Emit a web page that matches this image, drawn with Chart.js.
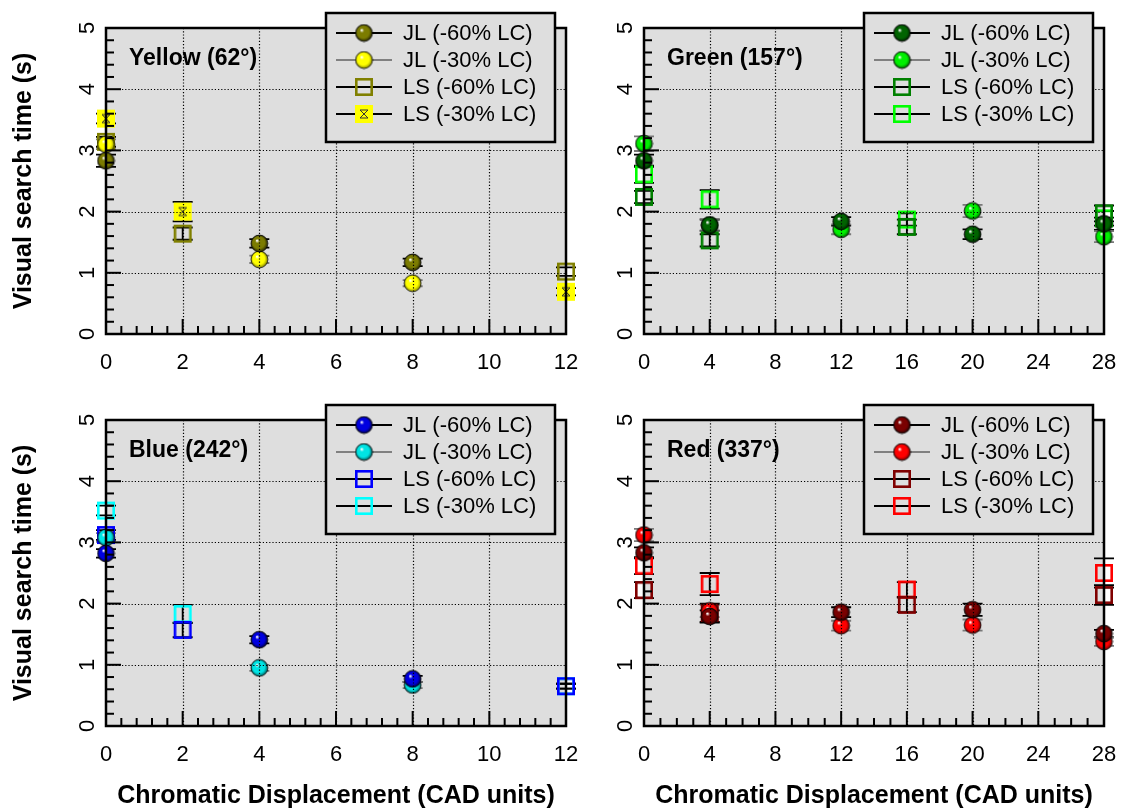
<!DOCTYPE html>
<html>
<head>
<meta charset="utf-8">
<script src="https://cdn.jsdelivr.net/npm/chart.js@4.4.0/dist/chart.umd.min.js"></script>
<style>
  html, body { margin: 0; padding: 0; background: #fff; }
  #wrap { position: relative; width: 1121px; height: 809px; }
  canvas { position: absolute; }
</style>
</head>
<body>
<div id="wrap">
  <canvas id="yellow" width="580" height="392" style="left:0;top:0"></canvas>
  <canvas id="green" width="541" height="392" style="left:580px;top:0"></canvas>
  <canvas id="blue" width="580" height="417" style="left:0;top:392px"></canvas>
  <canvas id="red" width="541" height="417" style="left:580px;top:392px"></canvas>
</div>
<script>
const FONT = '"Liberation Sans", Arial, Helvetica, sans-serif';
const LEGEND_LABELS = ['JL (-60% LC)', 'JL (-30% LC)', 'LS (-60% LC)', 'LS (-30% LC)'];
const Y_TITLE = 'Visual search time (s)';
const X_TITLE = 'Chromatic Displacement (CAD units)';

// Yellow (62°)
const yellowJLx = [0, 4, 8];
const yellowJL60 = [2.83, 1.48, 1.17];
const yellowJL60Err = [0.10, 0.07, 0.06];
const yellowJL30 = [3.10, 1.22, 0.83];
const yellowJL30Err = [0.08, 0.06, 0.05];
const yellowLSx = [0, 2, 12];
const yellowLS60 = [3.14, 1.64, 1.02];
const yellowLS60Err = [0.08, 0.10, 0.07];
const yellowLS30 = [3.52, 2.00, 0.69];
const yellowLS30Err = [0.08, 0.16, 0.06];

// Green (157°)
const greenJLx = [0, 4, 12, 20, 28];
const greenJL60 = [2.83, 1.78, 1.84, 1.63, 1.80];
const greenJL60Err = [0.10, 0.09, 0.07, 0.08, 0.10];
const greenJL30 = [3.11, 1.78, 1.71, 2.01, 1.59];
const greenJL30Err = [0.12, 0.10, 0.08, 0.10, 0.09];
const greenLSx = [0, 4, 16, 28];
const greenLS60 = [2.24, 1.53, 1.75, 1.97];
const greenLS60Err = [0.10, 0.10, 0.12, 0.13];
const greenLS30 = [2.61, 2.20, 1.87, 1.89];
const greenLS30Err = [0.14, 0.15, 0.10, 0.12];

// Blue (242°)
const blueJLx = [0, 4, 8];
const blueJL60 = [2.82, 1.41, 0.77];
const blueJL60Err = [0.07, 0.06, 0.05];
const blueJL30 = [3.08, 0.95, 0.67];
const blueJL30Err = [0.07, 0.05, 0.05];
const blueLSx = [0, 2, 12];
const blueLS60 = [3.12, 1.57, 0.65];
const blueLS60Err = [0.08, 0.12, 0.04];
const blueLS30 = [3.52, 1.83, 0.65];
const blueLS30Err = [0.08, 0.15, 0.04];

// Red (337°)
const redJLx = [0, 4, 12, 20, 28];
const redJL60 = [2.83, 1.79, 1.86, 1.90, 1.51];
const redJL60Err = [0.09, 0.10, 0.08, 0.10, 0.06];
const redJL30 = [3.12, 1.88, 1.64, 1.65, 1.38];
const redJL30Err = [0.10, 0.10, 0.08, 0.09, 0.07];
const redLSx = [0, 4, 16, 28];
const redLS60 = [2.22, 1.85, 1.98, 2.14];
const redLS60Err = [0.13, 0.15, 0.12, 0.16];
const redLS30 = [2.62, 2.32, 2.23, 2.50];
const redLS30Err = [0.14, 0.18, 0.12, 0.24];

// shaded ball marker
function sphere(color, dark) {
  const c = document.createElement('canvas');
  c.width = c.height = 19;
  const g = c.getContext('2d');
  const r = 8.4, cx = 9.5, cy = 9.5;
  const grad = g.createRadialGradient(cx - 2.5, cy - 3, 0.4, cx, cy, r);
  grad.addColorStop(0, '#ffffff');
  grad.addColorStop(0.22, color);
  grad.addColorStop(0.7, color);
  grad.addColorStop(1, dark);
  g.fillStyle = grad;
  g.beginPath();
  g.arc(cx, cy, r, 0, Math.PI * 2);
  g.fill();
  g.lineWidth = 1;
  g.strokeStyle = 'rgba(0,0,0,0.8)';
  g.stroke();
  return c;
}

function square(color, filled) {
  const c = document.createElement('canvas');
  c.width = c.height = 20;
  const g = c.getContext('2d');
  if (filled) {
    g.fillStyle = color;
    g.fillRect(1, 1, 18, 18);
    g.strokeStyle = '#333';
    g.lineWidth = 1;
    g.beginPath();
    g.moveTo(6, 6); g.lineTo(14, 6); g.lineTo(6, 14); g.lineTo(14, 14); g.closePath();
    g.stroke();
  }
  g.lineWidth = 2.6;
  g.strokeStyle = color;
  g.strokeRect(2.3, 2.3, 15.4, 15.4);
  return c;
}

const decor = {
  id: 'decor',
  beforeDraw(chart) {
    const { ctx, chartArea: a } = chart;
    ctx.save();
    ctx.fillStyle = '#dedede';
    ctx.fillRect(a.left, a.top, a.right - a.left, a.bottom - a.top);
    ctx.restore();
  },
  beforeDatasetsDraw(chart) {
    const { ctx, scales: { x, y } } = chart;
    ctx.save();
    ctx.lineWidth = 1.8;
    chart.data.datasets.forEach(ds => {
      ctx.strokeStyle = ds.errColor;
      ds.data.forEach((pt, i) => {
        const e = ds.err[i];
        const px = x.getPixelForValue(pt.x);
        const top = y.getPixelForValue(pt.y + e);
        const bot = y.getPixelForValue(pt.y - e);
        ctx.beginPath();
        ctx.moveTo(px, top); ctx.lineTo(px, bot);
        ctx.moveTo(px - 10, top); ctx.lineTo(px + 10, top);
        ctx.moveTo(px - 10, bot); ctx.lineTo(px + 10, bot);
        ctx.stroke();
      });
    });
    ctx.restore();
  },
  afterDatasetsDraw(chart, args, opts) {
    const { ctx, chartArea: a, scales: { x, y } } = chart;
    ctx.save();
    // dotted grid on top of the markers
    ctx.strokeStyle = '#000';
    ctx.lineWidth = 1.2;
    ctx.setLineDash([1.2, 2]);
    x.ticks.forEach(t => {
      const px = Math.round(x.getPixelForValue(t.value)) + 0.5;
      if (t.value <= x.min || t.value >= x.max) return;
      ctx.beginPath(); ctx.moveTo(px, a.top); ctx.lineTo(px, a.bottom); ctx.stroke();
    });
    y.ticks.forEach(t => {
      const py = Math.round(y.getPixelForValue(t.value)) + 0.5;
      if (t.value <= y.min || t.value >= y.max) return;
      ctx.beginPath(); ctx.moveTo(a.left, py); ctx.lineTo(a.right, py); ctx.stroke();
    });
    ctx.setLineDash([]);
    // inward ticks
    ctx.lineWidth = 2;
    for (let v = 0; v <= 5.001; v += 0.2) {
      const py = y.getPixelForValue(v);
      const len = Math.abs(v - Math.round(v)) < 0.01 ? 15 : 8;
      ctx.beginPath(); ctx.moveTo(a.left, py); ctx.lineTo(a.left + len, py); ctx.stroke();
    }
    for (let v = 0; v <= x.max + 0.001; v += opts.minor) {
      const px = x.getPixelForValue(v);
      const major = Math.abs(v / opts.major - Math.round(v / opts.major)) < 0.01;
      ctx.beginPath(); ctx.moveTo(px, a.bottom); ctx.lineTo(px, a.bottom - (major ? 15 : 8)); ctx.stroke();
    }
    // frame
    ctx.lineWidth = 2.5;
    ctx.strokeRect(a.left, a.top, a.right - a.left, a.bottom - a.top);
    ctx.restore();
  },
  afterDraw(chart, args, opts) {
    const { ctx, chartArea: a } = chart;
    ctx.save();
    ctx.fillStyle = '#000';
    ctx.font = 'bold 23px ' + FONT;
    ctx.textBaseline = 'middle';
    ctx.fillText(opts.title, a.left + 23, a.top + 31);
    // legend box
    const bx = a.right - 240, by = a.top - 15, bw = 229, bh = 129;
    ctx.fillStyle = '#dedede';
    ctx.fillRect(bx, by, bw, bh);
    ctx.lineWidth = 2.5;
    ctx.strokeStyle = '#000';
    ctx.strokeRect(bx, by, bw, bh);
    ctx.font = '22px ' + FONT;
    chart.data.datasets.forEach((ds, i) => {
      const cy = by + 20 + 27 * i;
      ctx.strokeStyle = i === 1 ? '#808080' : '#000';
      ctx.lineWidth = 2;
      ctx.beginPath(); ctx.moveTo(bx + 10, cy); ctx.lineTo(bx + 66, cy); ctx.stroke();
      const img = ds.pointStyle;
      ctx.drawImage(img, bx + 38 - img.width / 2, cy - img.height / 2);
      ctx.fillStyle = '#000';
      ctx.fillText(ds.label, bx + 77, cy + 1);
    });
    ctx.restore();
  }
};

function points(xs, ys) {
  return xs.map((x, i) => ({ x: x, y: ys[i] }));
}

function makePanel(id, p) {
  const datasets = [
    { label: LEGEND_LABELS[0], data: points(p.jlX, p.jl60), err: p.jl60Err, errColor: '#000', pointStyle: sphere(p.c60, p.d60) },
    { label: LEGEND_LABELS[1], data: points(p.jlX, p.jl30), err: p.jl30Err, errColor: '#7a7a7a', pointStyle: sphere(p.c30, p.d30) },
    { label: LEGEND_LABELS[2], data: points(p.lsX, p.ls60), err: p.ls60Err, errColor: '#000', pointStyle: square(p.s60, false) },
    { label: LEGEND_LABELS[3], data: points(p.lsX, p.ls30), err: p.ls30Err, errColor: '#000', pointStyle: square(p.s30, p.fill30) }
  ];
  datasets.forEach(ds => {
    ds.showLine = false;
    ds.pointRadius = 9;
    ds.pointHoverRadius = 9;
    ds.clip = false;
  });

  const tickFont = { family: FONT, size: 22 };
  new Chart(document.getElementById(id), {
    type: 'scatter',
    data: { datasets: datasets },
    options: {
      responsive: false,
      animation: false,
      devicePixelRatio: 1,
      events: [],
      layout: { padding: { top: 28, right: p.padRight, left: 0, bottom: 0 } },
      plugins: {
        legend: { display: false },
        tooltip: { enabled: false },
        decor: { title: p.title, major: p.xStep, minor: p.xMinor }
      },
      scales: {
        x: {
          type: 'linear', min: 0, max: p.xMax,
          grid: { display: false, drawTicks: false },
          border: { display: false },
          ticks: { stepSize: p.xStep, font: tickFont, color: '#000', padding: 16, maxRotation: 0, autoSkip: false },
          title: { display: p.xTitle, text: X_TITLE, color: '#000', font: { family: FONT, size: 25, weight: 'bold', lineHeight: 1 }, padding: 0 },
          afterFit: s => { s.height = p.xHeight; s.paddingLeft = 0; s.paddingRight = 0; }
        },
        y: {
          type: 'linear', min: 0, max: 5,
          grid: { display: false, drawTicks: false },
          border: { display: false },
          ticks: { stepSize: 1, font: tickFont, color: '#000', padding: 12, minRotation: 90, maxRotation: 90, crossAlign: 'center' },
          title: { display: p.yTitle, text: Y_TITLE, color: '#000', font: { family: FONT, size: 25, weight: 'bold', lineHeight: 1 }, padding: { top: 12, bottom: 0 } },
          afterFit: s => { s.width = p.yWidth; s.paddingTop = 0; s.paddingBottom = 0; }
        }
      }
    },
    plugins: [decor]
  });
}

makePanel('yellow', {
  title: 'Yellow (62°)', xMax: 12, xStep: 2, xMinor: 0.4, padRight: 14, yWidth: 106, xHeight: 58, xTitle: false, yTitle: true,
  jlX: yellowJLx, jl60: yellowJL60, jl60Err: yellowJL60Err, jl30: yellowJL30, jl30Err: yellowJL30Err,
  lsX: yellowLSx, ls60: yellowLS60, ls60Err: yellowLS60Err, ls30: yellowLS30, ls30Err: yellowLS30Err,
  c60: '#7c7c00', d60: '#262600', c30: '#ffff00', d30: '#8a8a00', s60: '#808000', s30: '#ffff00', fill30: true
});
makePanel('green', {
  title: 'Green (157°)', xMax: 28, xStep: 4, xMinor: 1, padRight: 17, yWidth: 64, xHeight: 58, xTitle: false, yTitle: false,
  jlX: greenJLx, jl60: greenJL60, jl60Err: greenJL60Err, jl30: greenJL30, jl30Err: greenJL30Err,
  lsX: greenLSx, ls60: greenLS60, ls60Err: greenLS60Err, ls30: greenLS30, ls30Err: greenLS30Err,
  c60: '#006400', d60: '#001c00', c30: '#00f000', d30: '#006000', s60: '#008000', s30: '#00ff00', fill30: false
});
makePanel('blue', {
  title: 'Blue (242°)', xMax: 12, xStep: 2, xMinor: 0.4, padRight: 14, yWidth: 106, xHeight: 83, xTitle: true, yTitle: true,
  jlX: blueJLx, jl60: blueJL60, jl60Err: blueJL60Err, jl30: blueJL30, jl30Err: blueJL30Err,
  lsX: blueLSx, ls60: blueLS60, ls60Err: blueLS60Err, ls30: blueLS30, ls30Err: blueLS30Err,
  c60: '#0000e0', d60: '#000040', c30: '#00e5e5', d30: '#006060', s60: '#0000ff', s30: '#00ffff', fill30: false
});
makePanel('red', {
  title: 'Red (337°)', xMax: 28, xStep: 4, xMinor: 1, padRight: 17, yWidth: 64, xHeight: 83, xTitle: true, yTitle: false,
  jlX: redJLx, jl60: redJL60, jl60Err: redJL60Err, jl30: redJL30, jl30Err: redJL30Err,
  lsX: redLSx, ls60: redLS60, ls60Err: redLS60Err, ls30: redLS30, ls30Err: redLS30Err,
  c60: '#7a0000', d60: '#250000', c30: '#ff0000', d30: '#700000', s60: '#800000', s30: '#ff0000', fill30: false
});
</script>
</body>
</html>
